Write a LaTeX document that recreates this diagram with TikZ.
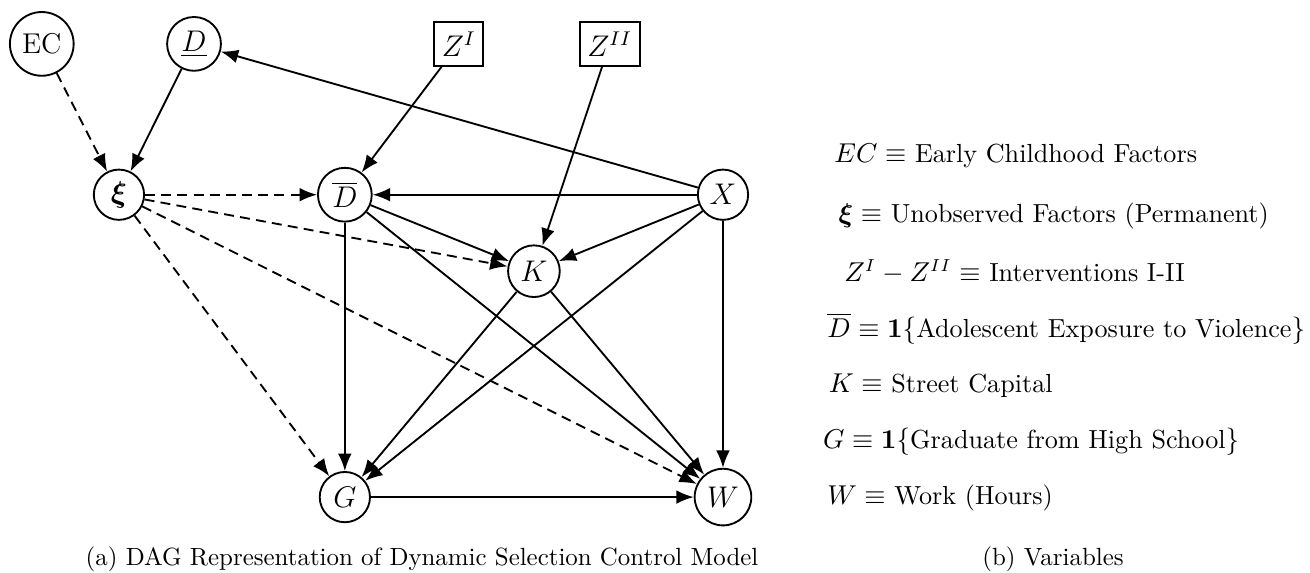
\documentclass[tikz,border=0pt]{standalone}
\usepackage{amsmath}
\usepackage{amssymb}
\usepackage{bm}
\usetikzlibrary{arrows.meta}

\begin{document}
\begin{tikzpicture}[
  var/.style={circle,draw,line width=0.75pt,minimum size=0.71cm,inner sep=1pt,font=\fontsize{11.5}{13}\selectfont},
  inst/.style={rectangle,draw,line width=0.75pt,minimum height=0.62cm,inner sep=3pt,font=\fontsize{11.5}{13}\selectfont},
  arr/.style={line width=0.75pt,-{Latex[length=7pt,width=5.5pt]}},
  darr/.style={arr,dashed,dash pattern=on 4pt off 2.5pt},
  defn/.style={anchor=base west,font=\fontsize{10.5}{12.6}\selectfont},
  subcap/.style={anchor=base}
]
\useasboundingbox (0,0) rectangle (18.5,-8.09);
\node[var,minimum size=0.9cm](EC) at (0.59,-0.62){EC};
\node[var,minimum size=0.76cm](Dlow) at (2.74,-0.62){$\underline{D}$};
\node[var](xi) at (1.68,-2.75){$\boldsymbol{\xi}$};
\node[var,minimum size=0.76cm](Dbar) at (4.87,-2.75){$\overline{D}$};
\node[inst](ZI) at (6.48,-0.62){$Z^{I}$};
\node[inst](ZII) at (8.61,-0.62){$Z^{II}$};
\node[var](X) at (10.21,-2.75){$X$};
\node[var,minimum size=0.73cm](K) at (7.54,-3.83){$K$};
\node[var](G) at (4.87,-7.02){$G$};
\node[var,minimum size=0.8cm](W) at (10.21,-7.02){$W$};

\path
(EC) edge[darr] (xi)
(Dlow) edge[arr] (xi)
(X) edge[arr] (Dlow)
(ZI) edge[arr] (Dbar)
(ZII) edge[arr] (K)
(xi) edge[darr] (Dbar)
(xi) edge[darr] (K)
(xi) edge[darr] (G)
(xi) edge[darr] (W)
(X) edge[arr] (Dbar)
(X) edge[arr] (K)
(X) edge[arr] (G)
(X) edge[arr] (W)
(Dbar) edge[arr] (K)
(Dbar) edge[arr] (G)
(Dbar) edge[arr] (W)
(K) edge[arr] (G)
(K) edge[arr] (W)
(G) edge[arr] (W);

\node[defn](lEC) at (11.66,-2.30){$EC \equiv$ Early Childhood Factors};
\node[defn](lxi) at (11.72,-3.14){$\boldsymbol{\xi} \equiv$ Unobserved Factors (Permanent)};
\node[defn](lZ) at (11.80,-3.97){$Z^{I} - Z^{II} \equiv$ Interventions I-II};
\node[defn](lDbar) at (11.56,-4.76){$\overline{D} \equiv \mathbf{1}\{$Adolescent Exposure to Violence$\}$};
\node[defn](lK) at (11.58,-5.54){$K \equiv$ Street Capital};
\node[defn](lG) at (11.50,-6.33){$G \equiv \mathbf{1}\{$Graduate from High School$\}$};
\node[defn](lW) at (11.56,-7.13){$W \equiv$ Work (Hours)};

\node[subcap](capa) at (5.96,-7.99){(a) DAG Representation of Dynamic Selection Control Model};
\node[subcap](capb) at (14.87,-7.99){(b) Variables};
\end{tikzpicture}
\end{document}
